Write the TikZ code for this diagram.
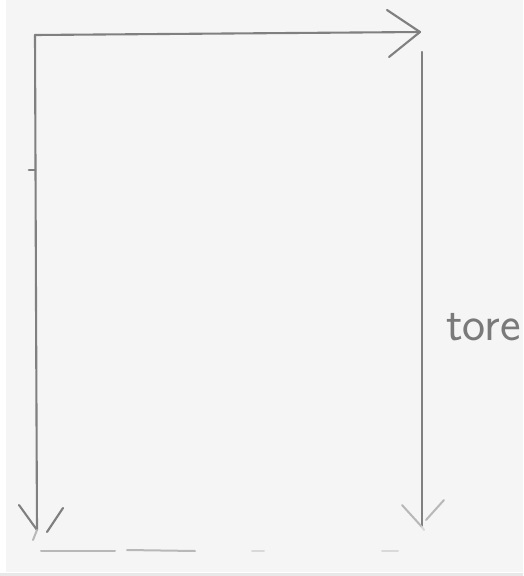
\documentclass[tikz,border=0pt]{standalone}
\usepackage{fontspec}
\begin{document}
\begin{tikzpicture}[x=1pt,y=-1pt,
  pen/.style={draw=black!50,line width=2.1pt,line cap=round,line join=round},
  faint/.style={draw=black!28,line width=2pt,line cap=round},
  faintest/.style={draw=black!15,line width=2pt,line cap=round}]
\useasboundingbox (0,0) rectangle (523,576);
\fill[white] (0,0) rectangle (523,576);
\fill[black!4] (6,0) rectangle (523,572);
\fill[black!9] (0,573) rectangle (523,576);
% corners and ends
\coordinate (tl) at (35,35);
\coordinate (tr) at (420,32);
\coordinate (bl) at (37,530);
\coordinate (rt) at (422,52);
\coordinate (rb) at (422,527);
% top arrow
\draw[pen] (tl) -- (tr);
\draw[pen] (387,10) -- (tr) -- (389,57);
% left arrow
\draw[pen] (tl) -- (36,300) -- (bl);
\draw[pen] (19,505) -- (bl);
\draw[pen] (63,508) -- (47,532);
\draw[faint] (bl) -- (33,540);
% tick
\draw[pen,line width=2.8pt] (29,170) -- (35,170);
% right arrow
\draw[pen] (rt) -- (rb);
\draw[faint] (402,505) -- (rb);
\draw[faint] (444,500) -- (426,520);
\draw[faintest] (rb) -- (424,530);
% bottom dashed faint line
\draw[faint] (41,551) -- (115,551);
\draw[faint] (127,550) -- (195,551);
\draw[faintest] (252,551) -- (264,551);
\draw[faintest] (382,551) -- (398,551);
% label
\node[text=black!52,font=\sffamily\fontsize{49}{52}\selectfont,inner sep=0pt,anchor=base west] (lab) at (446,340) {tore};
\end{tikzpicture}
\end{document}
